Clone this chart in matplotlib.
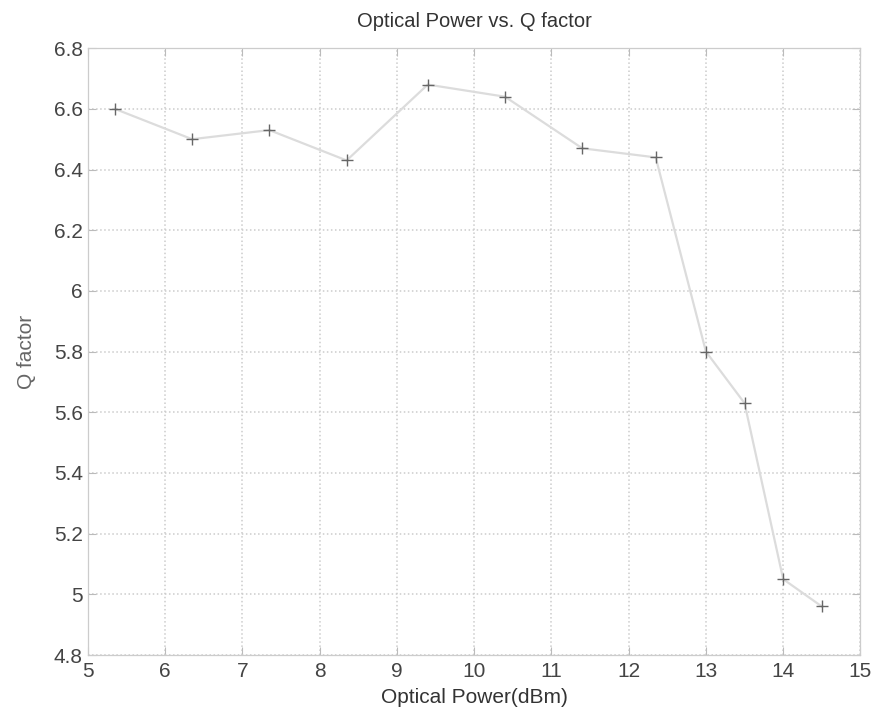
import matplotlib
matplotlib.use("Agg")
import matplotlib.pyplot as plt
import numpy as np

# data
power_dbm = [5.35, 6.35, 7.35, 8.35, 9.4, 10.4, 11.4, 12.35, 13.0, 13.5, 14.0, 14.5]
q_factor = [6.60, 6.50, 6.53, 6.43, 6.68, 6.64, 6.47, 6.44, 5.80, 5.63, 5.05, 4.96]

x_ticks = np.arange(5, 16, 1)
y_ticks = [4.8, 5.0, 5.2, 5.4, 5.6, 5.8, 6.0, 6.2, 6.4, 6.6, 6.8]
y_labels = ["4.8", "5", "5.2", "5.4", "5.6", "5.8", "6", "6.2", "6.4", "6.6", "6.8"]

plt.rcParams['font.family'] = ['Liberation Sans', 'DejaVu Sans']

fig = plt.figure(figsize=(8.78, 7.19), dpi=100)
ax = fig.add_axes([0.1, 0.089, 0.88, 0.844])

# faded line + markers like the scan
ax.plot(power_dbm, q_factor, color='#dcdcdc', linewidth=1.6, zorder=3)
ax.plot(power_dbm, q_factor, linestyle='none', marker='+', markersize=9,
        markeredgewidth=1.0, color='#666666', zorder=4)

ax.set_xlim(5, 15)
ax.set_ylim(4.8, 6.8)
ax.set_xticks(x_ticks)
ax.set_yticks(y_ticks)
ax.set_yticklabels(y_labels)
ax.grid(True, color='#cccccc', linestyle=':', linewidth=1.1)

ax.tick_params(direction='in', length=6, color='#bbbbbb', labelsize=15,
               labelcolor='#444444', top=True, right=True)
ax.tick_params(axis='x', pad=5)
for s in ax.spines.values():
    s.set_color('#cccccc')
    s.set_linewidth(0.9)

ax.set_title("Optical Power vs. Q factor", fontsize=14.5, color='#333333', pad=15)
ax.set_xlabel("Optical Power(dBm)", fontsize=15, color='#333333', labelpad=5)
ax.set_ylabel("Q factor", fontsize=15, color='#666666', labelpad=13)

fig.savefig("out.png", dpi=100)
